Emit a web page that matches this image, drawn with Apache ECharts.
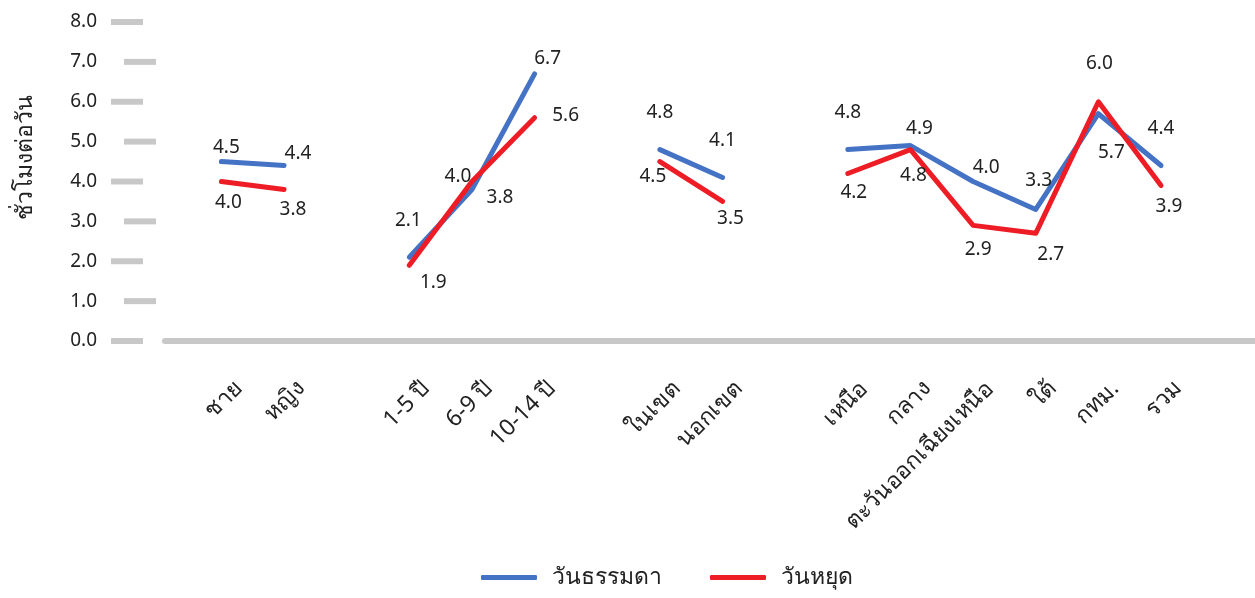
<!DOCTYPE html>
<html>
<head>
<meta charset="utf-8">
<script src="https://cdn.jsdelivr.net/npm/echarts@6/dist/echarts.min.js"></script>
<style>
html,body{margin:0;padding:0;background:#fff;}
#chart{width:1255px;height:598px;}
</style>
</head>
<body>
<div id="chart"></div>
<script>
// Categories (empty strings are gaps between groups)
var categories = ['ชาย','หญิง','','1-5 ปี','6-9 ปี','10-14 ปี','','ในเขต','นอกเขต','','เหนือ','กลาง','ตะวันออกเฉียงเหนือ','ใต้','กทม.','รวม'];
var weekday = [4.5, 4.4, null, 2.1, 3.8, 6.7, null, 4.8, 4.1, null, 4.8, 4.9, 4.0, 3.3, 5.7, 4.4];
var holiday = [4.0, 3.8, null, 1.9, 4.0, 5.6, null, 4.5, 3.5, null, 4.2, 4.8, 2.9, 2.7, 6.0, 3.9];
var yTicks = [0, 1, 2, 3, 4, 5, 6, 7, 8];
var seriesNames = ['วันธรรมดา', 'วันหยุด'];
var yTitle = 'ชั่วโมงต่อวัน';

// label offsets (style only)
var weekdayLabelOffsets = [[5,-14],[14,-12],null,[-1,-37],[28,8],[13,-15],null,[0,-37],[0,-37],null,[0,-37],[9,-17],[13,-14],[3,-29],[13,39],[0,-37]];
var holidayLabelOffsets = [[7,21],[9,20],null,[24,17],[-14,-5],[31,-2],null,[-7,15],[8,17],null,[6,19],[3,26],[5,24],[15,21],[1,-38],[8,21]];
var catLabelShift = 0.27; // rotated labels sit slightly right of their point (style)

var FONT = '"Noto Sans", "DejaVu Sans", sans-serif';
var BLUE = '#4472C4', RED = '#EE1C25', GRAY = '#C8C8C8', TXT = '#222';

function buildData(vals, offs) {
  return vals.map(function (v, i) {
    if (v === null) return [i, '-'];
    return {
      value: [i, v],
      label: { offset: offs[i] }
    };
  });
}

var labelPositions = [];
categories.forEach(function (c, i) { if (c !== '') labelPositions.push(i + catLabelShift); });

var chart = echarts.init(document.getElementById('chart'), null, { renderer: 'canvas' });
chart.setOption({
  animation: false,
  backgroundColor: '#fff',
  textStyle: { fontFamily: FONT },
  grid: { left: 165, right: 0, top: 22, bottom: 257 },
  legend: {
    data: seriesNames,
    left: 476,
    bottom: 4,
    icon: 'roundRect',
    itemWidth: 56,
    itemHeight: 5,
    itemGap: 48,
    textStyle: { fontFamily: FONT, fontSize: 23, color: TXT, padding: [0, 0, 0, 10] }
  },
  xAxis: {
    type: 'value',
    min: -0.9,
    max: 16.5,
    splitLine: { show: false },
    axisLine: { show: true, onZero: true, lineStyle: { color: GRAY, width: 6 } },
    axisTick: { show: false },
    axisLabel: {
      customValues: labelPositions,
      formatter: function (v) { return categories[Math.round(v - catLabelShift)] || ''; },
      rotate: 45,
      margin: 44,
      fontSize: 23,
      color: TXT,
      fontFamily: FONT
    }
  },
  yAxis: {
    type: 'value',
    min: 0,
    max: 8,
    interval: 1,
    splitLine: { show: false },
    axisLine: { show: false },
    axisTick: { show: false },
    name: yTitle,
    nameLocation: 'middle',
    nameGap: 128,
    nameRotate: 90,
    nameTextStyle: { fontFamily: FONT, fontSize: 23, color: TXT, padding: [0, 0, 0, 48] },
    axisLabel: {
      margin: 9,
      formatter: function (v) {
        var even = (v % 2 === 0);
        return '{t|' + v.toFixed(1) + '}' + (even ? '{ge| }' : '{go| }') + '{d| }' + (even ? '{se| }' : '');
      },
      rich: {
        t: { fontSize: 19, color: TXT, fontFamily: FONT },
        ge: { width: 14, height: 6 },
        go: { width: 27, height: 6 },
        d: { width: 32, height: 6, backgroundColor: GRAY },
        se: { width: 13, height: 6 }
      }
    }
  },
  series: [
    {
      name: seriesNames[0],
      type: 'line',
      data: buildData(weekday, weekdayLabelOffsets),
      connectNulls: false,
      symbol: 'circle',
      symbolSize: 1,
      showSymbol: true,
      color: BLUE,
      lineStyle: { color: BLUE, width: 5, cap: 'round', join: 'round' },
      itemStyle: { color: BLUE },
      label: { show: true, position: 'inside', fontSize: 19, color: TXT, fontFamily: FONT, formatter: function (p) { return p.value[1].toFixed(1); } },
      z: 2
    },
    {
      name: seriesNames[1],
      type: 'line',
      data: buildData(holiday, holidayLabelOffsets),
      connectNulls: false,
      symbol: 'circle',
      symbolSize: 1,
      showSymbol: true,
      color: RED,
      lineStyle: { color: RED, width: 5, cap: 'round', join: 'round' },
      itemStyle: { color: RED },
      label: { show: true, position: 'inside', fontSize: 19, color: TXT, fontFamily: FONT, formatter: function (p) { return p.value[1].toFixed(1); } },
      z: 3
    }
  ]
});
</script>
</body>
</html>
